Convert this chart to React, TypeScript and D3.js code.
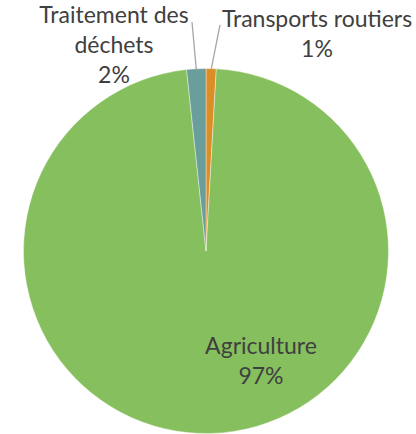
import React from "react";
import * as d3 from "d3";

const categories = ["Transports routiers", "Agriculture", "Traitement des déchets"];
const values = [0.9, 97.4, 1.7];
const colors = ["#DB8E25", "#86BF5D", "#6A9E9A"];

// label layout: lines, center x, first baseline y
const labelLines = [["Transports routiers"], ["Agriculture"], ["Traitement des", "déchets"]];
const labelPos = [
  { x: 317, y: 27 },
  { x: 261, y: 354 },
  { x: 114, y: 23 },
];
const leaderEnds = [
  { x: 220, y: 25 },
  null,
  { x: 192, y: 22 },
];

export default function App() {
  const W = 416, H = 434;
  const cx = 206, cy = 251, r = 182.5;
  const pie = d3.pie<number>().sort(null).value((d) => d);
  const arcs = pie(values);
  const arc = d3.arc<d3.PieArcDatum<number>>().innerRadius(0).outerRadius(r);
  const lineH = 30;
  return (
    <svg width={W} height={H} style={{ position: "absolute", left: 0, top: 0 }}>
      <g transform={`translate(${cx},${cy})`}>
        {arcs.map((a, i) => (
          <path key={i} d={arc(a) || ""} fill={colors[i]} stroke="#fff" strokeWidth={0.4} />
        ))}
      </g>
      {arcs.map((a, i) => {
        const end = leaderEnds[i];
        if (!end) return null;
        const mid = (a.startAngle + a.endAngle) / 2;
        const px = cx + Math.sin(mid) * (r - 1);
        const py = cy - Math.cos(mid) * (r - 1);
        return <line key={i} x1={px} y1={py} x2={end.x} y2={end.y} stroke="#A6A6A6" strokeWidth={1.3} />;
      })}
      {arcs.map((a, i) => {
        const lines = [...labelLines[i], `${Math.round(values[i])}%`];
        return (
          <text key={i} textAnchor="middle" fontFamily="Lato, 'Open Sans', sans-serif" fontSize={23} fill="#404040">
            {lines.map((l, j) => (
              <tspan key={j} x={labelPos[i].x} y={labelPos[i].y + j * lineH}>{l}</tspan>
            ))}
          </text>
        );
      })}
    </svg>
  );
}
